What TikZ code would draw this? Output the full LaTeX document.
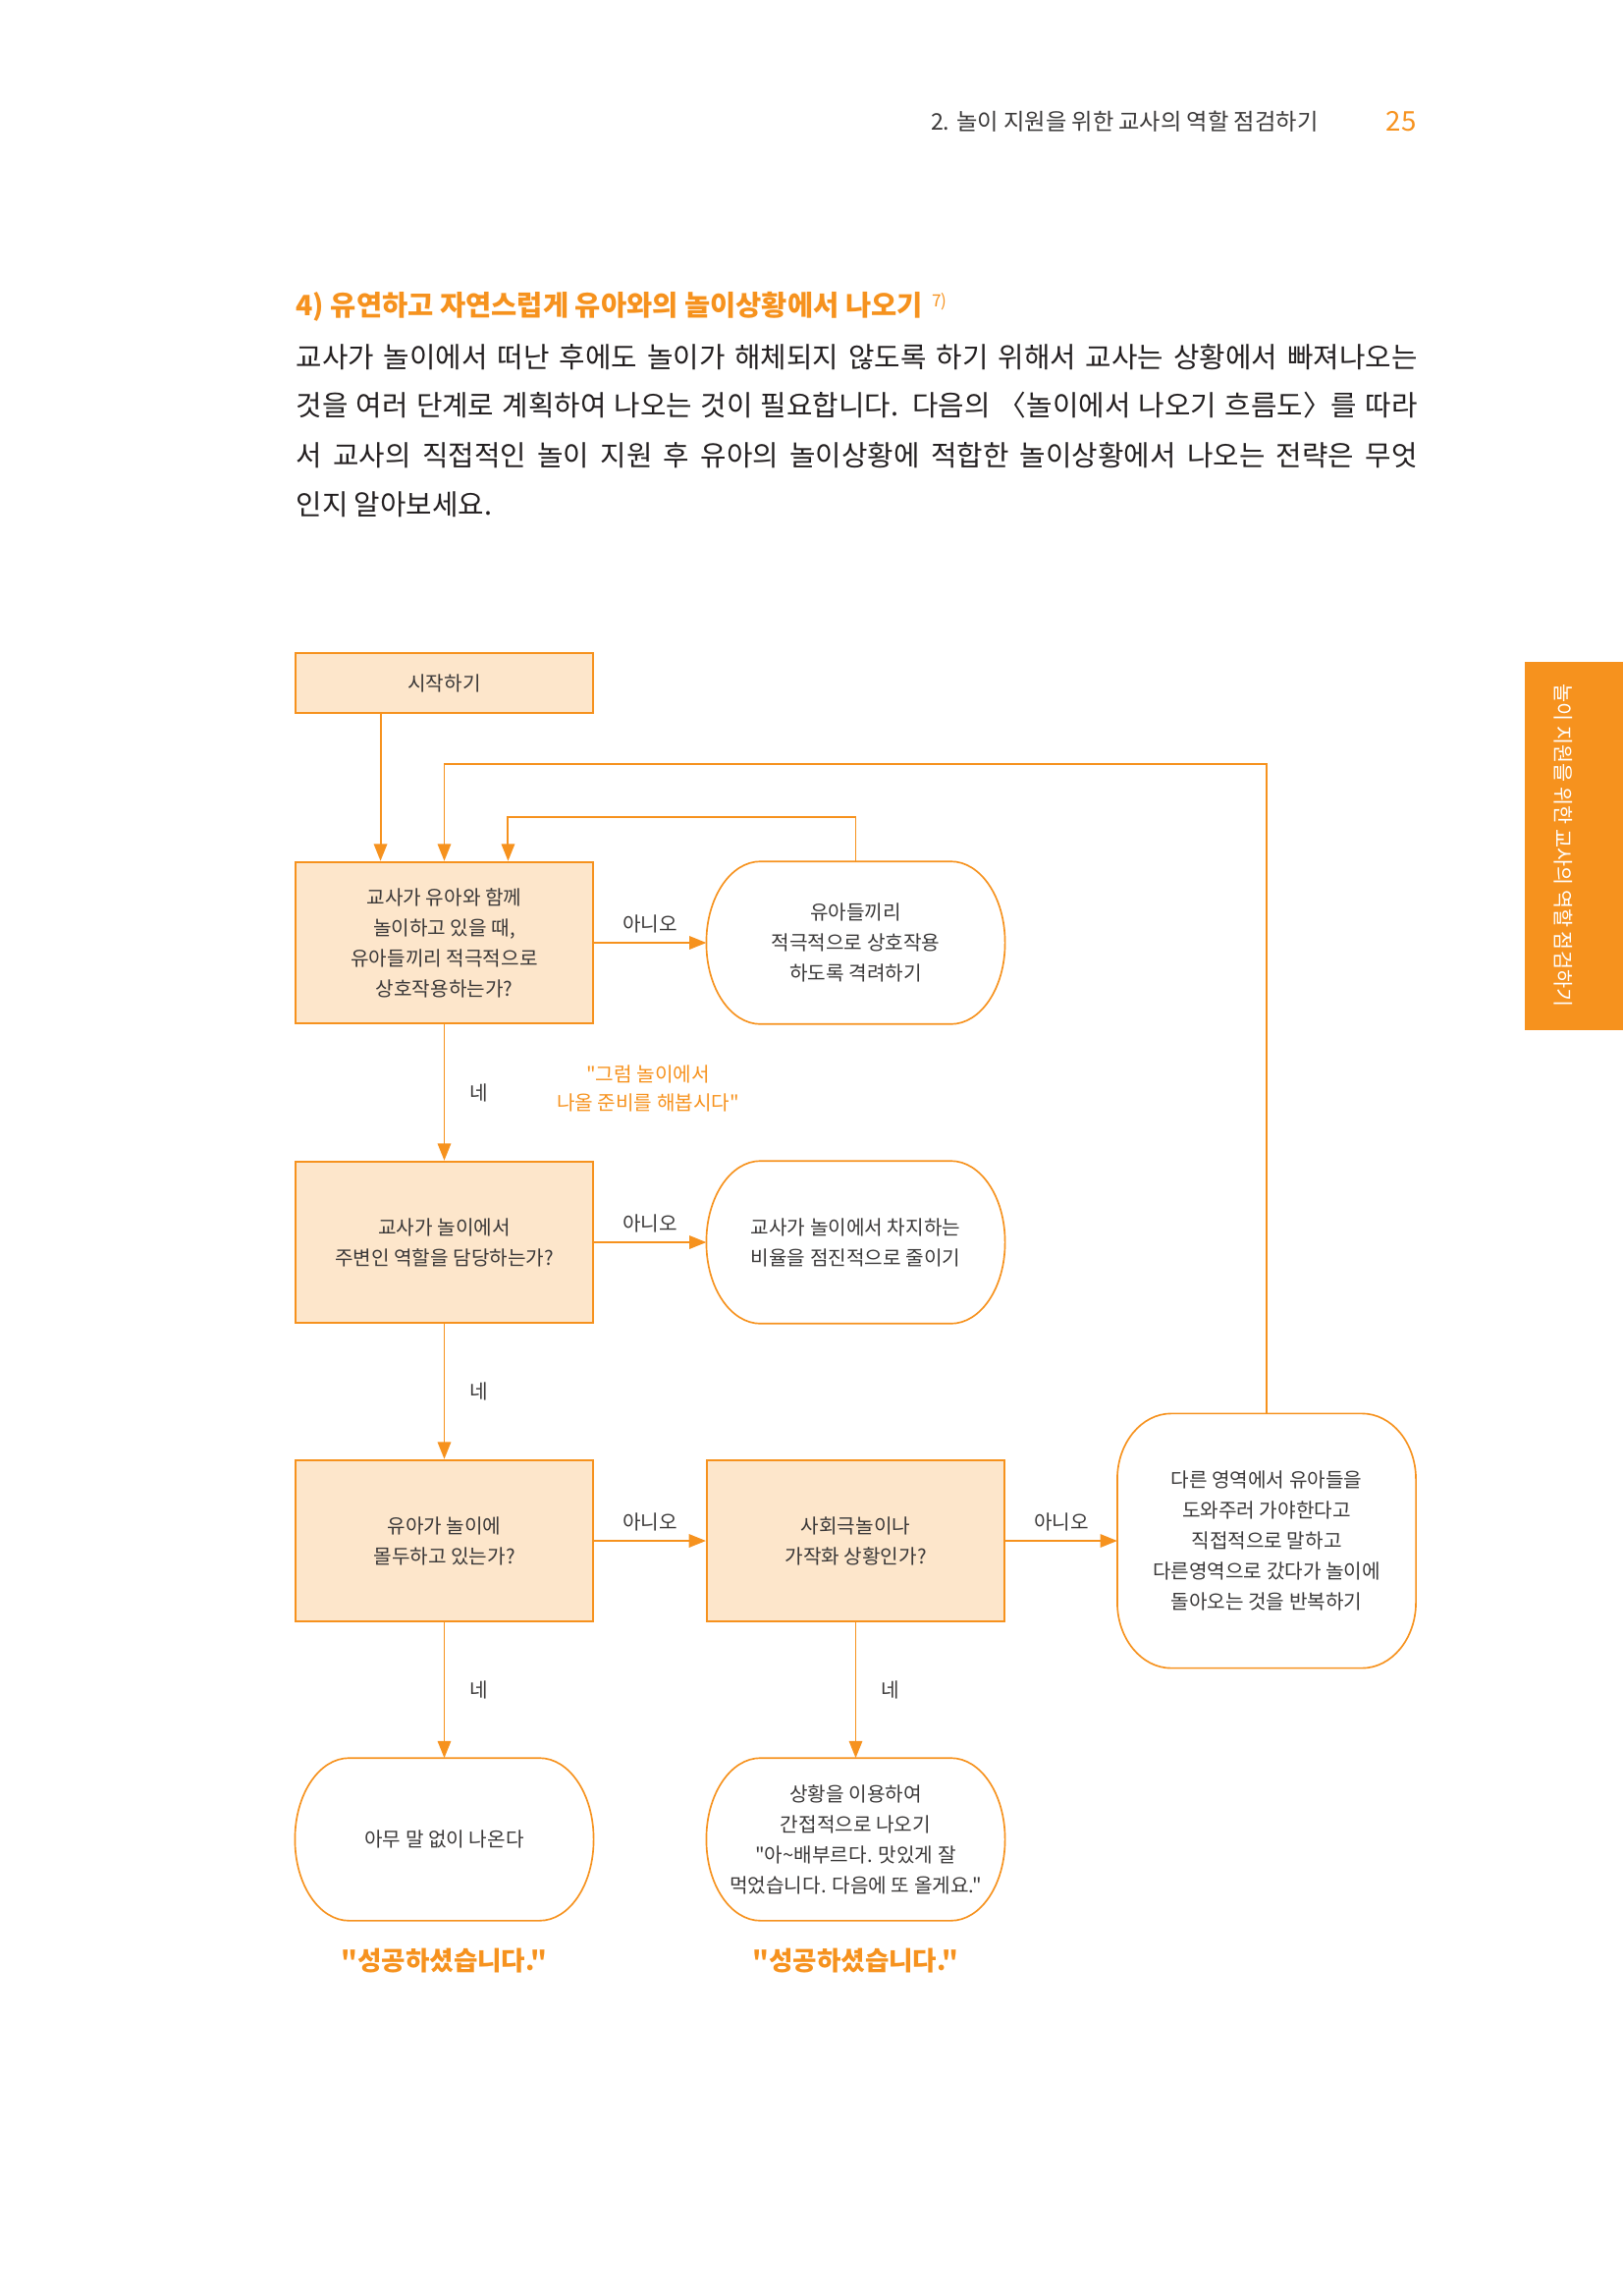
\documentclass[tikz,border=0pt]{standalone}
\usepackage{fontspec}
\setmainfont{Noto Sans CJK KR}[Ligatures=TeXOff]
\usetikzlibrary{
    arrows.meta,
    calc,
    positioning
}

\definecolor{flowor}{HTML}{F6921E}
\definecolor{boxfill}{HTML}{FDE6CB}
\definecolor{inktext}{HTML}{3A3838}
\definecolor{bodyink}{HTML}{231F20}

\newcommand{\flowfont}{\fontsize{7.3}{11.2}\selectfont}

% outline of a terminal box with oval ends
\newcommand{\termoutline}[3]{
    \draw[draw=flowor, line width=0.6pt]
        ($(#1.north west)+(#2,0)$) -- ($(#1.north east)+(-#2,0)$)
        arc[start angle=90, end angle=0, x radius=#2, y radius=#3]
        -- ($(#1.south east)+(0,#3)$)
        arc[start angle=0, end angle=-90, x radius=#2, y radius=#3]
        -- ($(#1.south west)+(#2,0)$)
        arc[start angle=270, end angle=180, x radius=#2, y radius=#3]
        -- ($(#1.north west)+(0,-#3)$)
        arc[start angle=180, end angle=90, x radius=#2, y radius=#3]
        -- cycle;
}

\tikzset{
    qbox/.style={draw=flowor, line width=0.7pt, fill=boxfill, minimum width=38.5mm,
        minimum height=20.9mm, inner sep=0pt, align=center, text=inktext, font=\flowfont},
    tbox/.style={minimum width=38.5mm, minimum height=20.9mm, inner sep=0pt,
        align=center, text=inktext, font=\flowfont},
    flow/.style={draw=flowor, line width=0.7pt, -{Triangle[length=2.2mm, width=1.7mm]}},
    lbl/.style={text=inktext, font=\flowfont},
    bodyline/.style={anchor=west, inner sep=0pt, text=bodyink, font=\fontsize{10.4}{12}\selectfont},
}

\begin{document}
\begin{tikzpicture}[x=0.12704mm, y=-0.12704mm]
    \useasboundingbox (0,0) rectangle (1653,2338);

    \node[anchor=east, inner sep=0pt, text=inktext, font=\fontsize{8.4}{10}\selectfont] (runhead) at (1343,124) {2. 놀이 지원을 위한 교사의 역할 점검하기};
    \node[anchor=east, inner sep=0pt, text=flowor, font=\fontsize{10}{12}\selectfont] (pagenum) at (1443,124) {25};

    \fill[flowor] (1553,674) rectangle (1653,1049);
    \node[rotate=-90, text=white, font=\fontsize{7.5}{9}\selectfont] (tabtext) at (1592,861) {놀이 지원을 위한 교사의 역할 점검하기};

    \node[anchor=west, inner sep=0pt, text=flowor, font=\fontsize{10.3}{12}\selectfont\bfseries] (sectitle) at (301,312) {4) 유연하고 자연스럽게 유아와의 놀이상황에서 나오기\,\,{\mdseries\fontsize{6.2}{6}\selectfont\raisebox{0.9ex}{7)}}};
    \node[bodyline] (body1) at (301,364) {\makebox[145.08mm][s]{교사가 놀이에서 떠난 후에도 놀이가 해체되지 않도록 하기 위해서 교사는 상황에서 빠져나오는}};
    \node[bodyline] (body2) at (301,413) {\makebox[145.08mm][s]{것을 여러 단계로 계획하여 나오는 것이 필요합니다. 다음의 〈놀이에서 나오기 흐름도〉를 따라}};
    \node[bodyline] (body3) at (301,464) {\makebox[145.08mm][s]{서 교사의 직접적인 놀이 지원 후 유아의 놀이상황에 적합한 놀이상황에서 나오는 전략은 무엇}};
    \node[bodyline] (body4) at (301,514) {인지 알아보세요.};

    \node[qbox, minimum height=7.75mm] (start) at (452.5,695.5) {시작하기};
    \node[qbox] (q1) at (452.5,960) {교사가 유아와 함께\\놀이하고 있을 때,\\유아들끼리 적극적으로\\상호작용하는가?};
    \node[tbox] (t1) at (871.5,960) {유아들끼리\\적극적으로 상호작용\\하도록 격려하기};
    \node[qbox] (q2) at (452.5,1265) {교사가 놀이에서\\주변인 역할을 담당하는가?};
    \node[tbox] (t2) at (871.5,1265) {교사가 놀이에서 차지하는\\비율을 점진적으로 줄이기};
    \node[qbox] (q3) at (452.5,1569) {유아가 놀이에\\몰두하고 있는가?};
    \node[qbox] (q4) at (871.5,1569) {사회극놀이나\\가작화 상황인가?};
    \node[tbox, minimum height=32.8mm] (t3) at (1290,1569) {다른 영역에서 유아들을\\도와주러 가야한다고\\직접적으로 말하고\\다른영역으로 갔다가 놀이에\\돌아오는 것을 반복하기};
    \node[tbox] (t4) at (452.5,1873) {아무 말 없이 나온다};
    \node[tbox] (t5) at (871.5,1873) {상황을 이용하여\\간접적으로 나오기\\"아\textasciitilde 배부르다. 맛있게 잘\\먹었습니다. 다음에 또 올게요."};

    \termoutline{t1}{7mm}{10.45mm}
    \termoutline{t2}{7mm}{10.45mm}
    \termoutline{t3}{7mm}{8.5mm}
    \termoutline{t4}{7mm}{10.45mm}
    \termoutline{t5}{7mm}{10.45mm}

    \node[text=flowor, align=center, font=\fontsize{7.3}{10.5}\selectfont] (hint) at (660,1108) {"그럼 놀이에서\\나올 준비를 해봅시다"};
    \node[text=flowor, font=\fontsize{9.6}{12}\selectfont\bfseries] (done1) at (452.5,1997) {"성공하셨습니다."};
    \node[text=flowor, font=\fontsize{9.6}{12}\selectfont\bfseries] (done2) at (871.5,1997) {"성공하셨습니다."};

    \coordinate (q1a) at ($(q1.north west)!0.287!(q1.north east)$);
    \coordinate (q1c) at ($(q1.north west)!0.713!(q1.north east)$);
    \coordinate (loopa) at (1290,778);
    \coordinate (loopb) at (871.5,832);

    \draw[flow] (start.south -| q1a) -- (q1a);
    \draw[flow] (t3.north) -- (loopa) -| (q1.north);
    \draw[flow] (t1.north) -- (loopb) -| (q1c);
    \draw[flow] (q1) -- node[lbl, above] (no1) {아니오} (t1);
    \draw[flow] (q1) -- node[lbl, right=2mm] (yes1) {네} (q2);
    \draw[flow] (q2) -- node[lbl, above] (no2) {아니오} (t2);
    \draw[flow] (q2) -- node[lbl, right=2mm] (yes2) {네} (q3);
    \draw[flow] (q3) -- node[lbl, above] (no3) {아니오} (q4);
    \draw[flow] (q4) -- node[lbl, above] (no4) {아니오} (t3);
    \draw[flow] (q3) -- node[lbl, right=2mm] (yes3) {네} (t4);
    \draw[flow] (q4) -- node[lbl, right=2mm] (yes4) {네} (t5);
\end{tikzpicture}
\end{document}
